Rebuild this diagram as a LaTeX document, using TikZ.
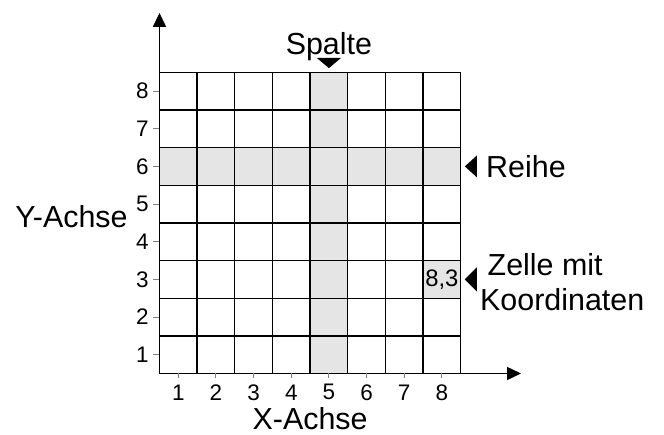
\documentclass[tikz,border=0pt]{standalone}
\usepackage{fontspec}
\setmainfont{Liberation Sans}
\usetikzlibrary{arrows.meta, positioning}

\begin{document}
\begin{tikzpicture}[
    zelle/.style={fill=gray!20},
    gitter/.style={line width=1pt, black},
    achse/.style={-{Triangle[length=3.7mm, width=3.5mm]}, line width=0.7pt},
    strich/.style={line width=0.7pt, gray},
    zahl/.style={font=\fontsize{17}{20}\selectfont, inner sep=0pt},
    schrift/.style={font=\fontsize{23}{26.4}\selectfont, inner sep=0pt},
    zeiger/.style={fill=black}
]

% rahmen
\useasboundingbox (-4.236,-1.633) rectangle (13.40,9.92);

% hervorgehobene spalte, reihe und zelle
\fill[zelle] (4,0) rectangle (5,8);
\fill[zelle] (0,5) rectangle (8,6);
\fill[zelle] (7,2) rectangle (8,3);

% gitter
\draw[gitter] (0,0) grid (8,8);

% achsen
\coordinate (ursprung) at (0,0);
\coordinate (xende) at (9.6,0);
\coordinate (yende) at (0,9.575);
\draw[achse] (ursprung) -- (xende);
\draw[achse] (ursprung) -- (yende);

% skalen
\foreach \n in {1,...,8} {
    \draw[strich] (\n-0.5,0) -- (\n-0.5,-0.13);
    \node[zahl] (x\n) at (\n-0.5,-0.5) {\n};
    \draw[strich] (0,\n-0.5) -- (-0.17,\n-0.5);
    \node[zahl, anchor=east] (y\n) at (-0.28,\n-0.5) {\n};
}

% beschriftungen
\node[schrift, anchor=base] (spalte) at (4.5,8.46) {Spalte};
\node[schrift, anchor=west] (reihe) at (8.67,5.5) {Reihe};
\node[schrift, anchor=west, align=left] (zellemit) at (8.51,2.42)
    {\hspace*{0.2cm}Zelle mit\\Koordinaten};
\node[font=\fontsize{18}{21}\selectfont, inner sep=0pt] (koord) at (7.5,2.5) {8,3};
\node[schrift, anchor=east] (yachse) at (-0.84,4.16) {Y-Achse};
\node[schrift, anchor=base] (xachse) at (4,-1.5) {X-Achse};

% zeiger
\fill[zeiger] (4.18,8.38) -- (4.82,8.38) -- (4.5,8.11) -- cycle;
\fill[zeiger] (8.43,5.79) -- (8.43,5.21) -- (8.11,5.5) -- cycle;
\fill[zeiger] (8.43,2.82) -- (8.43,2.18) -- (8.11,2.5) -- cycle;

\end{tikzpicture}
\end{document}
